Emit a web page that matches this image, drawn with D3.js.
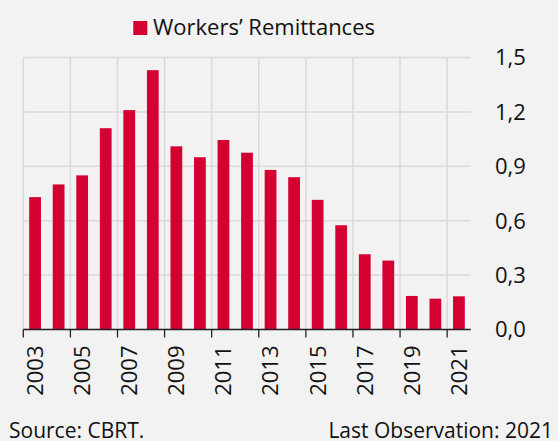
<!DOCTYPE html>
<html>
<head>
<meta charset="utf-8">
<script src="https://cdn.jsdelivr.net/npm/d3@7"></script>
<style>
  body { margin: 0; background: #f2f2f2; }
  svg { display: block; font-family: "Open Sans", sans-serif; }
</style>
</head>
<body>
<div class="canvas"></div>
<script>
var years = [2003, 2004, 2005, 2006, 2007, 2008, 2009, 2010, 2011, 2012,
             2013, 2014, 2015, 2016, 2017, 2018, 2019, 2020, 2021];
var remittances = [0.73, 0.80, 0.85, 1.11, 1.21, 1.43, 1.01, 0.95, 1.045, 0.975,
                   0.88, 0.84, 0.715, 0.575, 0.415, 0.38, 0.185, 0.17, 0.183];
var yTicks = [0, 0.3, 0.6, 0.9, 1.2, 1.5];
var seriesName = "Workers\u2019 Remittances";

var width = 558, height = 441;
var plotLeft = 23.3, plotRight = 470.7, plotTop = 57.5, plotBottom = 329.5;

var svg = d3.select(".canvas")
    .append("svg")
    .attr("width", width)
    .attr("height", height);

svg.append("rect")
    .attr("width", width)
    .attr("height", height)
    .attr("fill", "#f2f2f2");

var x = d3.scaleBand()
    .domain(years)
    .range([plotLeft, plotRight])
    .paddingInner(0)
    .paddingOuter(0);

var y = d3.scaleLinear()
    .domain([0, 1.5])
    .range([plotBottom, plotTop]);

var fmt = function(d){ return d3.format(".1f")(d).replace(".", ","); };

// horizontal grid
svg.append("g")
    .selectAll("line")
    .data(yTicks)
    .enter().append("line")
    .attr("x1", plotLeft)
    .attr("x2", plotRight)
    .attr("y1", function(d){ return y(d); })
    .attr("y2", function(d){ return y(d); })
    .attr("stroke", "#d9d9d9")
    .attr("stroke-width", 1.5);

// vertical grid, every two years
var oddYears = years.filter(function(d){ return d % 2 == 1; });
svg.append("g")
    .selectAll("line")
    .data(oddYears)
    .enter().append("line")
    .attr("x1", function(d){ return x(d); })
    .attr("x2", function(d){ return x(d); })
    .attr("y1", plotTop)
    .attr("y2", plotBottom)
    .attr("stroke", "#d9d9d9")
    .attr("stroke-width", 1.5);

// bars
var bw = x.bandwidth() * 0.5;
svg.append("g")
    .selectAll("rect")
    .data(years)
    .enter().append("rect")
    .attr("x", function(d){ return x(d) + x.bandwidth() / 2 - bw / 2; })
    .attr("y", function(d, i){ return y(remittances[i]); })
    .attr("width", bw)
    .attr("height", function(d, i){ return plotBottom - y(remittances[i]); })
    .attr("fill", "#d50032");

// x axis line + ticks
svg.append("line")
    .attr("x1", plotLeft).attr("x2", plotRight)
    .attr("y1", plotBottom).attr("y2", plotBottom)
    .attr("stroke", "#222").attr("stroke-width", 1.3);

svg.append("g")
    .selectAll("line")
    .data(oddYears)
    .enter().append("line")
    .attr("x1", function(d){ return x(d); })
    .attr("x2", function(d){ return x(d); })
    .attr("y1", plotBottom)
    .attr("y2", plotBottom + 8)
    .attr("stroke", "#222").attr("stroke-width", 1.3);

// year labels
svg.append("g")
    .selectAll("text")
    .data(oddYears)
    .enter().append("text")
    .attr("transform", function(d){
        return "translate(" + (x(d) + x.bandwidth() / 2) + "," + (plotBottom + 16) + ") rotate(-90)";
    })
    .attr("text-anchor", "end")
    .attr("dy", "0.36em")
    .attr("font-size", 22)
    .attr("fill", "#111")
    .text(function(d){ return d; });

// y labels on right
svg.append("g")
    .selectAll("text")
    .data(yTicks)
    .enter().append("text")
    .attr("x", 495)
    .attr("y", function(d){ return y(d); })
    .attr("dy", "0.36em")
    .attr("font-size", 22)
    .attr("fill", "#111")
    .text(fmt);

// legend
svg.append("rect")
    .attr("x", 133.3).attr("y", 21)
    .attr("width", 14).attr("height", 14)
    .attr("fill", "#d50032");

svg.append("text")
    .attr("x", 153)
    .attr("y", 35)
    .attr("font-size", 22)
    .attr("fill", "#111")
    .text(seriesName);

// footer
svg.append("text")
    .attr("x", 9).attr("y", 438)
    .attr("font-size", 21)
    .attr("fill", "#111")
    .text("Source: CBRT.");

svg.append("text")
    .attr("x", 553).attr("y", 438)
    .attr("text-anchor", "end")
    .attr("font-size", 21)
    .attr("fill", "#111")
    .text("Last Observation: 2021");
</script>
</body>
</html>
